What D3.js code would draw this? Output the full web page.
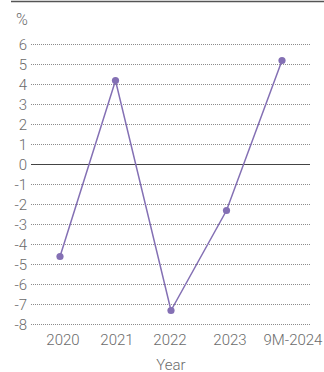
<!DOCTYPE html>
<html>
<head>
<meta charset="utf-8">
<script src="https://cdn.jsdelivr.net/npm/d3@7"></script>
<style>
  html, body { margin: 0; padding: 0; background: #fff; }
  svg { display: block; }
  text { font-family: Roboto, "Noto Sans", sans-serif; fill: #6b6b6b; }
</style>
</head>
<body>
<svg id="chart" width="324" height="372"></svg>
<script>
// Annual growth, %
const years = ["2020", "2021", "2022", "2023", "9M-2024"];
const growth = [-4.6, 4.2, -7.3, -2.3, 5.2];
const yTicks = [6, 5, 4, 3, 2, 1, 0, -1, -2, -3, -4, -5, -6, -7, -8];
const yTickLabels = ["6", "5", "4", "3", "2", "1", "0", "-1", "-2", "-3", "-4", "-5", "-6", "-7", "-8"];
const xLabelShift = [3, 1.5, -1, 3.5, 11];

const svg = d3.select("#chart");
const W = 324;

const x = d3.scalePoint().domain(years).range([60, 282]);
const y = d3.scaleLinear().domain([-8, 6]).range([324.5, 44.5]);

const gridX0 = 31, gridX1 = 310;

// top rule
svg.append("line")
  .attr("x1", 11).attr("x2", W).attr("y1", 1.5).attr("y2", 1.5)
  .attr("stroke", "#555").attr("stroke-width", 1.3);

// unit
svg.append("text").attr("x", 16).attr("y", 25)
  .attr("font-size", 16).attr("font-weight", 300).text("%");

// dotted grid and solid zero line
svg.append("g").selectAll("line")
  .data(yTicks)
  .join("line")
  .attr("x1", gridX0).attr("x2", gridX1)
  .attr("y1", d => y(d)).attr("y2", d => y(d))
  .attr("stroke", d => d === 0 ? "#444" : "#8c8c8c")
  .attr("stroke-width", 1)
  .attr("stroke-dasharray", d => d === 0 ? null : "1,1");

// y tick labels
svg.append("g").selectAll("text")
  .data(yTicks)
  .join("text")
  .attr("x", 27)
  .attr("y", d => y(d) + 5.4)
  .attr("text-anchor", "end")
  .attr("font-size", 15)
  .attr("font-weight", 300)
  .text((d, i) => yTickLabels[i]);

// x category labels
svg.append("g").selectAll("text")
  .data(years)
  .join("text")
  .attr("x", (d, i) => x(d) + xLabelShift[i])
  .attr("y", 345)
  .attr("text-anchor", "middle")
  .attr("font-size", 15)
  .attr("font-weight", 300)
  .text(d => d);

// axis title
svg.append("text").attr("x", 171).attr("y", 369.5)
  .attr("text-anchor", "middle")
  .attr("font-size", 15).attr("font-weight", 300)
  .text("Year");

// series
const pts = years.map((yr, i) => ({ yr, v: growth[i] }));
const purple = "#8470b4";

svg.append("path")
  .datum(pts)
  .attr("fill", "none")
  .attr("stroke", purple)
  .attr("stroke-width", 1.5)
  .attr("d", d3.line().x(d => x(d.yr)).y(d => y(d.v)));

svg.append("g").selectAll("circle")
  .data(pts)
  .join("circle")
  .attr("cx", d => x(d.yr))
  .attr("cy", d => y(d.v))
  .attr("r", 3.6)
  .attr("fill", purple);
</script>
</body>
</html>
